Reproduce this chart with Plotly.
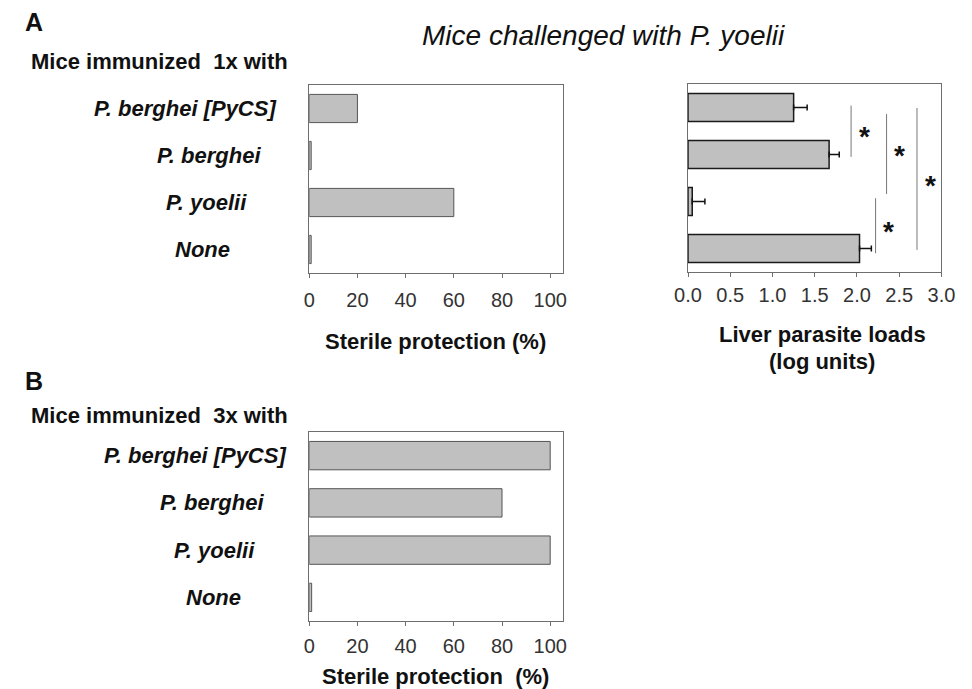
import plotly.graph_objects as go

# ---------------- data ----------------
groups = ["P. berghei [PyCS]", "P. berghei", "P. yoelii", "None"]
sterile_1x = [20, 0.8, 60, 0.8]          # % sterile protection, 1x immunization
liver_load = [1.25, 1.67, 0.05, 2.03]    # log units
liver_err = [0.16, 0.12, 0.15, 0.14]
sterile_3x = [100, 80, 100, 1]           # % sterile protection, 3x immunization
pct_ticks = [0, 20, 40, 60, 80, 100]
log_ticks = [0.0, 0.5, 1.0, 1.5, 2.0, 2.5, 3.0]
# significance brackets: (x, y_start_index, y_end_index)
sig_lines = [(1.93, -0.04, 1.05), (2.35, 0.14, 1.84), (2.71, 0.01, 3.03), (2.22, 1.93, 3.10)]
sig_stars = [(2.09, 0.48), (2.50, 0.90), (2.87, 1.54), (2.37, 2.50)]

# ---------------- layout helpers ----------------
W, H = 972, 689
def px(x):
    return x / W
def py(y):
    return 1 - y / H

FONT = "Liberation Sans, Arial, Helvetica, sans-serif"
BAR_FILL = "#c0c0c0"
label_cx_A = [176, 201, 198, 194]
label_cx_B = [186, 204, 206, 205]

fig = go.Figure()

fig.add_trace(go.Bar(
    x=sterile_1x, y=groups, orientation="h", width=0.6,
    marker=dict(color=BAR_FILL, line=dict(color="#555555", width=1)),
    xaxis="x", yaxis="y", showlegend=False, hoverinfo="x+y"))

fig.add_trace(go.Bar(
    x=liver_load, y=groups, orientation="h", width=0.6,
    marker=dict(color=BAR_FILL, line=dict(color="#1a1a1a", width=1.5)),
    error_x=dict(type="data", array=liver_err, arrayminus=[0] * len(liver_err),
                 symmetric=False, color="#111111", thickness=1.5, width=3),
    xaxis="x2", yaxis="y2", showlegend=False, hoverinfo="x+y"))

fig.add_trace(go.Bar(
    x=sterile_3x, y=groups, orientation="h", width=0.6,
    marker=dict(color=BAR_FILL, line=dict(color="#555555", width=1)),
    xaxis="x3", yaxis="y3", showlegend=False, hoverinfo="x+y"))

axis_common = dict(showline=True, mirror=True, linecolor="#6e6e6e", linewidth=1,
                   showgrid=False, zeroline=False, ticks="outside", ticklen=4,
                   tickcolor="#6e6e6e",
                   tickfont=dict(family=FONT, size=20, color="#333333"))
yaxis_common = dict(showline=True, mirror=True, linecolor="#6e6e6e", linewidth=1,
                    showgrid=False, zeroline=False, showticklabels=False, ticks="",
                    type="category", categoryorder="array", categoryarray=groups,
                    range=[3.5, -0.5])

fig.update_layout(
    width=W, height=H, margin=dict(l=0, r=0, t=0, b=0),
    paper_bgcolor="white", plot_bgcolor="white",
    bargap=0.4,
    xaxis=dict(domain=[px(304), px(565)], range=[0, 105.2], tickvals=pct_ticks,
               anchor="y", ticklabelstandoff=5, **axis_common),
    yaxis=dict(domain=[py(273), py(85)], anchor="x", **yaxis_common),
    xaxis2=dict(domain=[px(694), px(955)], range=[0, 3], tickvals=log_ticks,
                tickformat=".1f", anchor="y2", ticklabelstandoff=1, **axis_common),
    yaxis2=dict(domain=[py(272), py(84)], anchor="x2", **yaxis_common),
    xaxis3=dict(domain=[px(304), px(565)], range=[0, 105.2], tickvals=pct_ticks,
                anchor="y3", ticklabelstandoff=3, **axis_common),
    yaxis3=dict(domain=[py(621), py(432)], anchor="x3", **yaxis_common),
)

# significance lines
for (xv, y0, y1) in sig_lines:
    fig.add_shape(type="line", xref="x2", yref="y2", x0=xv, x1=xv, y0=y0, y1=y1,
                  line=dict(color="#777777", width=1))
for (xv, yv) in sig_stars:
    fig.add_annotation(x=xv, y=yv, xref="x2", yref="y2", text="<b>*</b>",
                       showarrow=False, yshift=-6,
                       font=dict(family=FONT, size=28, color="#111111"))

def txt(text, x, y, size, bold=False, italic=False, xref="paper", yref="paper"):
    t = text
    if bold:
        t = "<b>" + t + "</b>"
    if italic:
        t = "<i>" + t + "</i>"
    fig.add_annotation(x=x, y=y, xref=xref, yref=yref, text=t, showarrow=False,
                       xanchor="center", yanchor="middle",
                       font=dict(family=FONT, size=size, color="#111111"))

txt("A", px(21), py(22), 25, bold=True)
txt("B", px(21), py(381), 25, bold=True)
txt("Mice challenged with P. yoelii", px(607), py(35), 28, italic=True)
txt("Mice immunized\u00a0 1x with", px(150), py(62), 22, bold=True)
txt("Mice immunized\u00a0 3x with", px(150), py(415), 22, bold=True)

for g, cx in zip(groups, label_cx_A):
    txt(g, px(cx), g, 22, bold=True, italic=True, yref="y")
for g, cx in zip(groups, label_cx_B):
    txt(g, px(cx), g, 22, bold=True, italic=True, yref="y3")

txt("Sterile protection (%)", px(434), py(341), 22, bold=True)
txt("Liver parasite loads", px(832), py(334), 22, bold=True)
txt("(log units)", px(832), py(361), 22, bold=True)
txt("Sterile protection\u00a0 (%)", px(434), py(676), 22, bold=True)

fig.write_html("out.html")
